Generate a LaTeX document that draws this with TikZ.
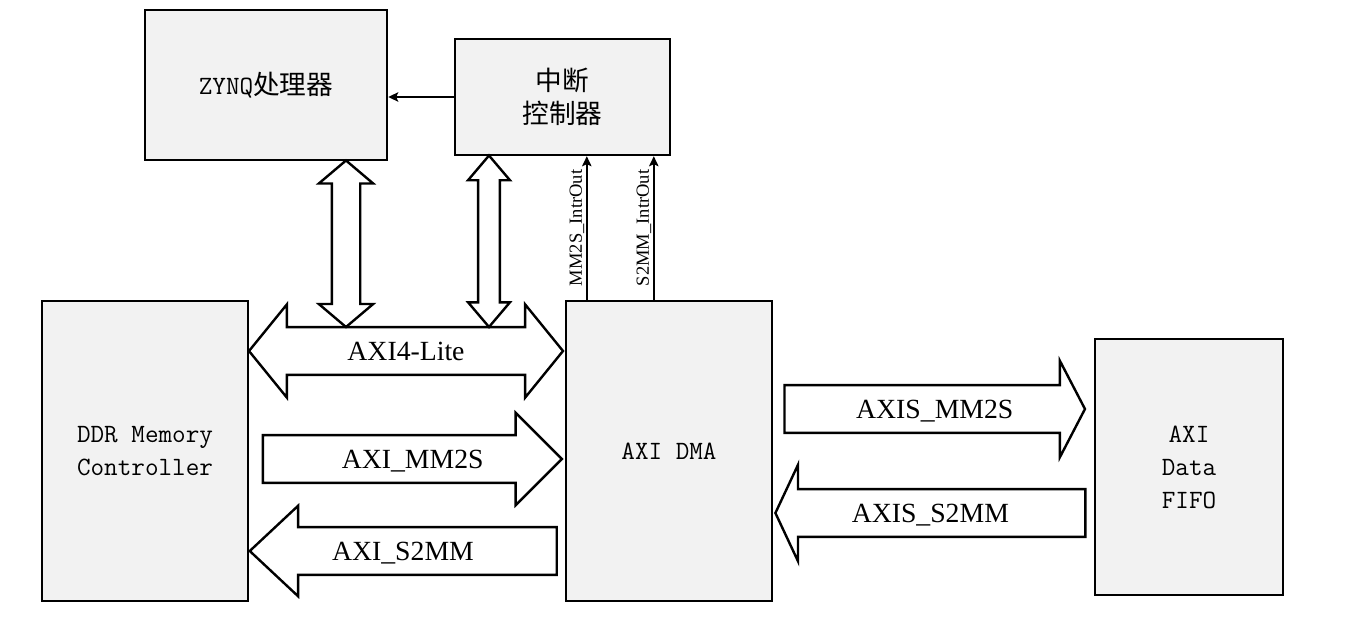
\documentclass[tikz,border=0pt]{standalone}
\usepackage{fontspec}
\setmainfont{Liberation Serif}
\newfontfamily\cjkfont{Noto Sans CJK SC}
\usetikzlibrary{shapes.arrows, arrows.meta, calc}
\definecolor{boxgray}{HTML}{F2F2F2}
\def\LW{1.8pt}
\def\Wbox{154.5pt}
\def\Hbox{225pt}
\newcommand\blockfont{\ttfamily\fontsize{19.8pt}{24.75pt}\selectfont}
\newcommand\busfont{\fontsize{20.8pt}{24pt}\selectfont}
\newcommand\tagfont{\fontsize{13.9pt}{16pt}\selectfont}
\newcommand\zh[1]{{\cjkfont\fontsize{20pt}{24.75pt}\selectfont #1}}
\tikzstyle{block}    = [rectangle, draw=black, fill=boxgray, line width=\LW, align=center, font=\blockfont]
\tikzstyle{bus}      = [draw=black, fill=white, line width=\LW, text height=24pt, text depth=10pt, inner ysep=0pt]
\tikzstyle{buslabel} = [font=\busfont, text height=24pt, text depth=10pt, inner sep=0pt]
\tikzstyle{vbus}     = [double arrow, rotate=90, draw=black, fill=white, line width=\LW, inner sep=0pt, text depth=0pt]
\tikzstyle{arrow}    = [line width=\LW, -{Stealth[length=7.5pt, width=7pt, inset=1.5pt]}]
\tikzstyle{tag}      = [font=\tagfont, inner sep=0pt]

\begin{document}
\begin{tikzpicture}[x=0.75pt, y=-0.75pt]
\useasboundingbox (0,0) rectangle (1371,625);
% Objects
    % Top row
    \node (zynq) [block, minimum width=181.5pt, minimum height=112.5pt] at (266,85)    {ZYNQ\zh{处理器}};
    \node (intc) [block, minimum width=161.25pt, minimum height=87pt]  at (562.5,97)  {\zh{中断}\\\zh{控制器}};
    % Bottom row
    \node (ddr)  [block, minimum width=\Wbox, minimum height=\Hbox]     at (145,451)   {DDR Memory\\Controller};
    \node (dma)  [block, minimum width=\Wbox, minimum height=\Hbox]     at (669,451)   {AXI DMA};
    \node (fifo) [block, minimum width=141pt, minimum height=192pt]    at (1189,467)  {AXI\\Data\\FIFO};

% Buses
    % DDR side
    \node (lite)    [bus, double arrow, minimum height=235.5pt, double arrow head extend=17.1pt, double arrow tip angle=101.8] at (406,351) {};
    \node (mm2s)    [bus, single arrow, minimum height=224.25pt, single arrow head extend=16.8pt, single arrow tip angle=90] at (400.5,459) {};
    \node (s2mm)    [bus, single arrow, shape border rotate=180, minimum height=230.25pt, single arrow head extend=16pt, single arrow tip angle=86.2] at (416,551) {};
    % FIFO side
    \node (axismm)  [bus, single arrow, minimum height=225.4pt, single arrow head extend=18.3pt, single arrow tip angle=125] at (928.5,409) {};
    \node (axisss)  [bus, single arrow, shape border rotate=180, minimum height=232.5pt, single arrow head extend=18.3pt, single arrow tip angle=129.8] at (936,513) {};
    % Up to the top row
    \node (vzynq)   [vbus, minimum height=124.9pt, text height=19.5pt, double arrow head extend=9.75pt, double arrow tip angle=99.5] at (346,243.75) {};
    \node (vintc)   [vbus, minimum height=128.6pt, text height=14.6pt, double arrow head extend=7.5pt, double arrow tip angle=80.6] at (489,241.25) {};

% Bus names
    \node (litename)   [buslabel] at (lite.center)                       {AXI4-Lite};
    \node (mm2sname)   [buslabel] at ($(mm2s.tail)!0.5!(mm2s.tip)$)      {AXI\_MM2S};
    \node (s2mmname)   [buslabel] at ($(s2mm.tail)!0.5!(s2mm.tip)$)      {AXI\_S2MM};
    \node (axismmname) [buslabel] at ($(axismm.tail)!0.5!(axismm.tip)$)  {AXIS\_MM2S};
    \node (axisssname) [buslabel] at ($(axisss.tail)!0.5!(axisss.tip)$)  {AXIS\_S2MM};

% Arrows
    \draw [arrow] (intc.west) -- (intc.west -| zynq.east);
    \draw [arrow] ([xshift=16.5pt]dma.north west) -- ([xshift=16.5pt]dma.north west |- intc.south)
        node (mmtag) [tag, midway, xshift=-3.75pt, rotate=90, anchor=base] {MM2S\_IntrOut};
    \draw [arrow] ([xshift=66.75pt]dma.north west) -- ([xshift=66.75pt]dma.north west |- intc.south)
        node (sstag) [tag, midway, xshift=-3.75pt, rotate=90, anchor=base] {S2MM\_IntrOut};
\end{tikzpicture}
\end{document}
